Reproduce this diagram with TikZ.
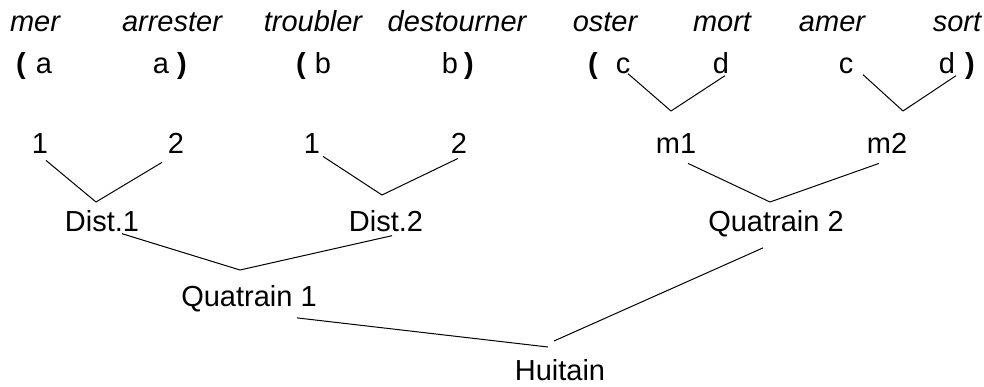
\documentclass[tikz,border=0pt]{standalone}
\usepackage{fontspec}
\setmainfont{Liberation Sans}
\usepackage{tikz}
\usetikzlibrary{positioning}

\begin{document}
\begin{tikzpicture}[x=0.5pt,y=-0.5pt]
\useasboundingbox (0,0) rectangle (984,386);

\begin{scope}[every node/.style={anchor=base,inner sep=0pt,font=\fontsize{14.5}{17}\selectfont}]
    \node (mer) at (35,31) {\itshape mer};
    \node (arrester) at (172,31) {\itshape arrester};
    \node (troubler) at (313,31) {\itshape troubler};
    \node (destourner) at (457,31) {\itshape destourner};
    \node (oster) at (605,31) {\itshape oster};
    \node (mort) at (722,31) {\itshape mort};
    \node (amer) at (832,31) {\itshape amer};
    \node (sort) at (957,31) {\itshape sort};
    
    \node (P1) at (21,73) {\bfseries (};
    \node (a1) at (44,73) {a};
    \node (a2) at (161,73) {a};
    \node (P2) at (182,73) {\bfseries )};
    \node (P3) at (301,73) {\bfseries (};
    \node (b1) at (323,73) {b};
    \node (b2) at (450,73) {b};
    \node (P4) at (469,73) {\bfseries )};
    \node (P5) at (593,73) {\bfseries (};
    \node (c1) at (623,73) {c};
    \node (d1) at (721,73) {d};
    \node (c2) at (846,73) {c};
    \node (d2) at (947,73) {d};
    \node (P6) at (970,73) {\bfseries )};
    
    \node (N1) at (40,153) {1};
    \node (N2) at (176,153) {2};
    \node (N3) at (312,153) {1};
    \node (N4) at (459,153) {2};
    \node (M1) at (676,153) {m1};
    \node (M2) at (887,153) {m2};
    
    \node (Dist1) at (102,231) {Dist.1};
    \node (Dist2) at (386,231) {Dist.2};
    \node (Q2) at (776,231) {Quatrain 2};
    
    \node (Q1) at (249,306) {Quatrain 1};
    
    \node (H) at (560,380) {Huitain};
\end{scope}

\coordinate (J1) at (96,202);
\coordinate (J2) at (382,195);
\coordinate (J3) at (671,111);
\coordinate (J4) at (903,111);
\coordinate (J5) at (770,202);
\coordinate (J6) at (240,270);
\coordinate (J7) at (548,347);
\coordinate (J8) at (554,341);

\begin{scope}[every path/.style={draw=black,line width=0.5pt}]
     \draw ([shift={(6,7)}]N1.south) -- (J1);
     \draw ([shift={(-14,9)}]N2.south) -- (J1);
     \draw ([shift={(11,3)}]N3.south) -- (J2);
     \draw ([shift={(-1,5)}]N4.south) -- (J2);
     
     \draw ([shift={(5,0)}]c1.south) -- (J3);
     \draw ([shift={(4,2)}]d1.south) -- (J3);
     \draw ([shift={(17,1)}]c2.south) -- (J4);
     \draw ([shift={(9,2)}]d2.south) -- (J4);
     
     \draw ([shift={(12,10)}]M1.south) -- (J5);
     \draw ([shift={(-8,10)}]M2.south) -- (J5);
     
     \draw ([shift={(20,2)}]Dist1.south) -- (J6);
     \draw ([shift={(6,4)}]Dist2.south) -- (J6);
     
     \draw ([shift={(48,6)}]Q1.south) -- (J7);
     \draw ([shift={(-13,11)}]Q2.south) -- (J8);
\end{scope}
\end{tikzpicture}
\end{document}
